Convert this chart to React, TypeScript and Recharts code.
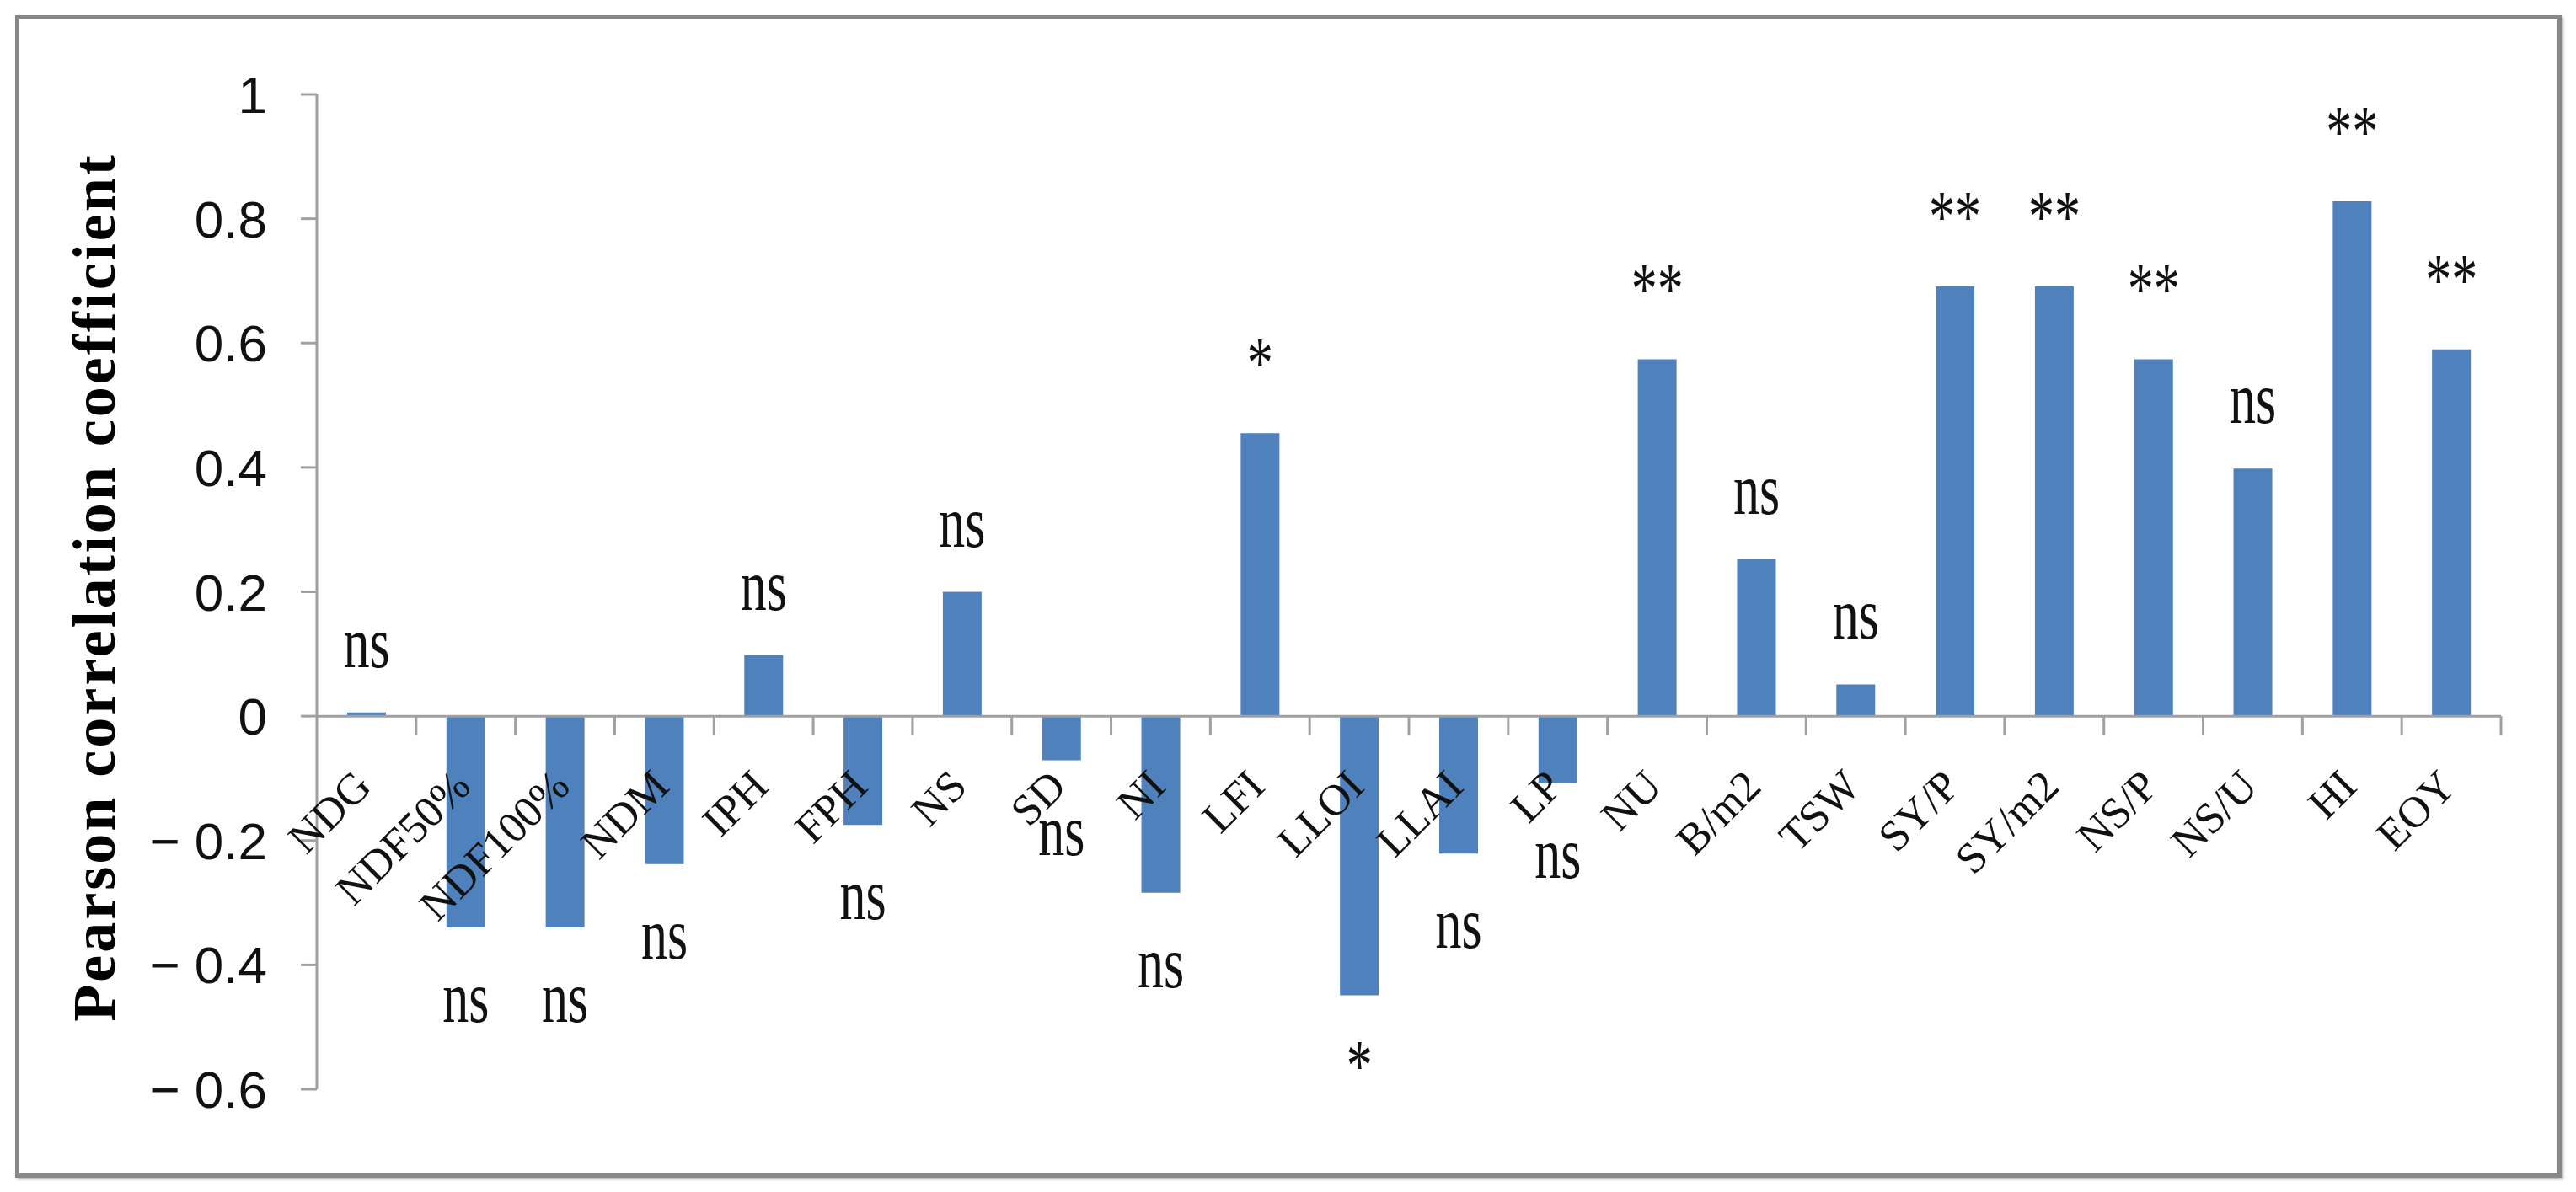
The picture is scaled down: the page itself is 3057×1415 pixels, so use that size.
import { BarChart, Bar, XAxis, YAxis, ReferenceLine, LabelList } from "recharts";

const categories = [
  "NDG", "NDF50%", "NDF100%", "NDM", "IPH", "FPH", "NS", "SD", "NI", "LFI", "LLOI",
  "LLAI", "LP", "NU", "B/m2", "TSW", "SY/P", "SY/m2", "NS/P", "NS/U", "HI", "EOY",
];
const coefficients = [
  0.006, -0.34, -0.34, -0.238, 0.098, -0.175, 0.2, -0.071, -0.284, 0.455, -0.449,
  -0.221, -0.108, 0.574, 0.252, 0.051, 0.691, 0.691, 0.574, 0.398, 0.828, 0.59,
];
const significance = [
  "ns", "ns", "ns", "ns", "ns", "ns", "ns", "ns", "ns", "*", "*",
  "ns", "ns", "**", "ns", "ns", "**", "**", "**", "ns", "**", "**",
];
const yTicks = [-0.6, -0.4, -0.2, 0, 0.2, 0.4, 0.6, 0.8, 1];

const data = categories.map((name, i) => ({
  name,
  pos: i + 0.5,
  r: coefficients[i],
  sig: significance[i],
}));
// tick marks sit between categories, Excel style
const boundaries = categories.map((_, i) => i + 1);

const AXIS = "#a0a0a0";
const BLUE = "#4f81bd";
const SERIF = "'Liberation Serif', 'Times New Roman', serif";

function box(props: any) {
  const vb = props.viewBox ?? props;
  const { x, y, width, height } = vb;
  return {
    cx: x + width / 2,
    top: Math.min(y, y + height),
    bottom: Math.max(y, y + height),
  };
}

function CategoryLabel(props: any) {
  const { cx, top, bottom } = box(props);
  const v = coefficients[props.index];
  const zero = v >= 0 ? bottom : top;
  return (
    <text
      transform={`translate(${cx + 8},${zero + 86}) rotate(-45)`}
      textAnchor="end"
      fontFamily={SERIF}
      fontSize={52}
      fill="#111"
    >
      {props.value}
    </text>
  );
}

function SigLabel(props: any) {
  const { cx, top, bottom } = box(props);
  const v = coefficients[props.index];
  const baseline = v >= 0 ? top - 54 : bottom + 112;
  return (
    <text
      transform={`translate(${cx},${baseline}) scale(1,1.4)`}
      textAnchor="middle"
      fontFamily={SERIF}
      fontSize={62}
      fill="#111"
    >
      {props.value}
    </text>
  );
}

function AxisTitle() {
  return (
    <text
      transform="translate(136,697) rotate(-90)"
      textAnchor="middle"
      fontFamily={SERIF}
      fontWeight="bold"
      fontSize={72}
      letterSpacing={3}
      fill="#000"
    >
      Pearson correlation coefficient
    </text>
  );
}

const fmt = (v: number) => (v < 0 ? `\u2212 ${Math.abs(v)}` : `${v}`);

export default function App() {
  return (
    <div
      style={{
        position: "absolute",
        left: 0,
        top: 0,
        width: 3057,
        height: 1415,
        background: "#fff",
      }}
    >
      <div
        style={{
          position: "absolute",
          left: 18,
          top: 18,
          width: 3012,
          height: 1370,
          border: "5px solid #888",
          boxShadow: "2px 2px 3px #bbb",
        }}
      />
      <div style={{ position: "absolute", left: 0, top: 0 }}>
        <BarChart
          width={3057}
          height={1415}
          data={data}
          margin={{ top: 112, right: 89, bottom: 122, left: 20 }}
        >
          <XAxis type="number" dataKey="pos" domain={[0, categories.length]} hide />
          <YAxis
            domain={[-0.6, 1]}
            ticks={yTicks}
            width={356}
            tickSize={19}
            tickMargin={40}
            tickFormatter={fmt}
            stroke={AXIS}
            strokeWidth={3}
            tick={{ fill: "#111", fontSize: 62, fontFamily: "'Liberation Sans', Arial, sans-serif" }}
            label={{ content: () => <AxisTitle /> }}
          />
          <Bar dataKey="r" fill={BLUE} barSize={46} isAnimationActive={false}>
            <LabelList dataKey="name" content={CategoryLabel} />
            <LabelList dataKey="sig" content={SigLabel} />
          </Bar>
          <ReferenceLine y={0} stroke={AXIS} strokeWidth={3} />
          {boundaries.map((k) => (
            <ReferenceLine
              key={k}
              segment={[
                { x: k, y: 0 },
                { x: k, y: -0.03 },
              ]}
              stroke={AXIS}
              strokeWidth={3}
            />
          ))}
        </BarChart>
      </div>
    </div>
  );
}
